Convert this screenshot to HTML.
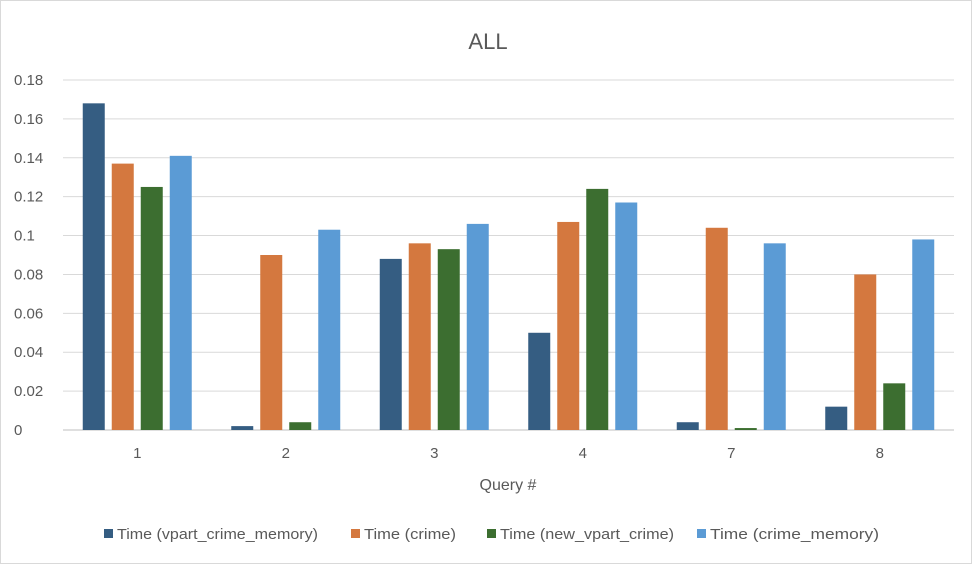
<!DOCTYPE html>
<html><head><meta charset="utf-8"><style>
body{margin:0;background:#fff;font-family:"Liberation Sans",sans-serif;}
svg text{font-family:"Liberation Sans",sans-serif;}
</style></head><body>
<svg id="chart" width="973" height="565">
<rect x="0.5" y="0.5" width="971" height="563" fill="#fff" stroke="#d9d9d9"/>
<text x="488" y="49" text-anchor="middle" font-size="22" fill="#595959">ALL</text>
<g id="grid"></g><g id="bars"></g><g id="xlabels"></g>
<text x="508" y="490" text-anchor="middle" font-size="16" fill="#595959">Query #</text>
<g id="legend"></g>
</svg>
<script>
const categories=["1","2","3","4","7","8"];
const seriesNames=["Time (vpart_crime_memory)","Time (crime)","Time (new_vpart_crime)","Time (crime_memory)"];
const s1=[0.168,0.002,0.088,0.050,0.004,0.012];
const s2=[0.137,0.090,0.096,0.107,0.104,0.080];
const s3=[0.125,0.004,0.093,0.124,0.001,0.024];
const s4=[0.141,0.103,0.106,0.117,0.096,0.098];
const yTicks=[0,0.02,0.04,0.06,0.08,0.1,0.12,0.14,0.16,0.18];
const colors=["#355d82","#d4783f","#3c6e30","#5b9bd5"];
const series=[s1,s2,s3,s4];
const NS="http://www.w3.org/2000/svg";
const L=63,R=954,T=80,B=430,ymax=0.18;
const y=v=>B-v/ymax*(B-T);
const step=(R-L)/categories.length;
const xc=i=>L+step*(i+0.5);
function mk(tag,attrs,parent){const e=document.createElementNS(NS,tag);for(const k in attrs)e.setAttribute(k,attrs[k]);parent.appendChild(e);return e;}
const grid=document.getElementById('grid');
yTicks.forEach(t=>{
 const l=mk('line',{x1:L,x2:R,y1:y(t),y2:y(t),stroke:t===0?'#bfbfbf':'#d9d9d9','stroke-width':1},grid);
 
 
 const tx=mk('text',{x:14,y:y(t)+5,'font-size':15,fill:'#595959'},grid);
 tx.textContent=String(t);
 
 
});
const bars=document.getElementById('bars');
const bw=22,gap=29;
series.forEach((s,si)=>{
 s.forEach((v,i)=>{
  const cx=xc(i)+(si-1.5)*gap;
  const r=mk('rect',{x:cx-bw/2,y:y(v),width:bw,height:B-y(v),fill:colors[si]},bars);
  
  
 });
});
const xl=document.getElementById('xlabels');
categories.forEach((c,i)=>{
 const t=mk('text',{x:xc(i),y:458,'text-anchor':'middle','font-size':15,fill:'#595959'},xl);
 t.textContent=c;
 
 
});
const lg=document.getElementById('legend');
const lx=[104,351,487,697];
const lw=[201,92,174,169];
seriesNames.forEach((n,i)=>{
 const g=mk('g',{},lg);
 
 
 mk('rect',{x:lx[i],y:529,width:9,height:9,fill:colors[i]},g);
 const t=mk('text',{x:lx[i]+13,y:539,'font-size':15,fill:'#595959',textLength:lw[i],lengthAdjust:'spacingAndGlyphs'},g);
 t.textContent=n;
});
</script>
</body></html>
